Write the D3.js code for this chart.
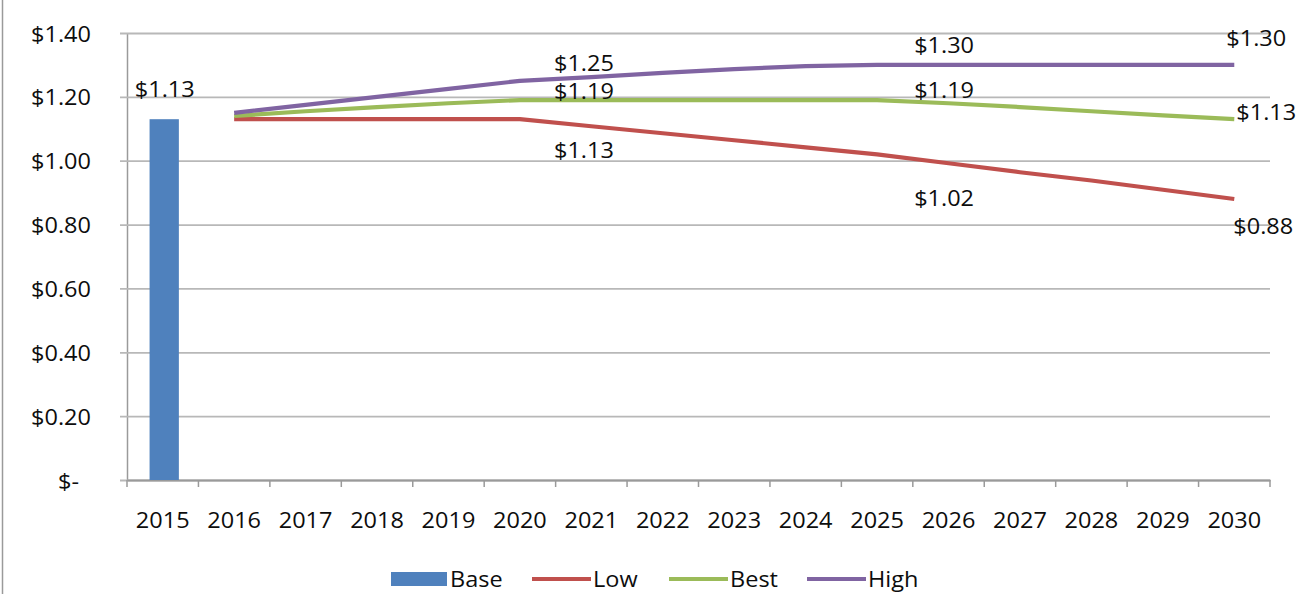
<!DOCTYPE html>
<html>
<head>
<meta charset="utf-8">
<script src="https://cdn.jsdelivr.net/npm/d3@7"></script>
<style>
  html, body { margin: 0; padding: 0; background: #fff; }
  svg { display: block; }
  text { font-family: "Open Sans", "Liberation Sans", sans-serif; fill: #0d0d0d; }
</style>
</head>
<body>
<svg id="chart" width="1296" height="594"></svg>
<script>
// ---- data ----
const years = ["2015","2016","2017","2018","2019","2020","2021","2022","2023","2024","2025","2026","2027","2028","2029","2030"];
const baseYears = ["2015"];
const baseValues = [1.13];
const lowValues  = [null, 1.13, 1.13, 1.13, 1.13, 1.13, 1.108, 1.086, 1.064, 1.042, 1.02, 0.992, 0.964, 0.938, 0.909, 0.88];
const bestValues = [null, 1.14, 1.155, 1.168, 1.18, 1.19, 1.19, 1.19, 1.19, 1.19, 1.19, 1.18, 1.168, 1.155, 1.142, 1.13];
const highValues = [null, 1.15, 1.175, 1.20, 1.225, 1.25, 1.262, 1.275, 1.287, 1.296, 1.30, 1.30, 1.30, 1.30, 1.30, 1.30];
const labeledYears = ["2020", "2025", "2030"];
const yTickValues = [0, 0.2, 0.4, 0.6, 0.8, 1.0, 1.2, 1.4];
const yTickLabels = ["$-", "$0.20", "$0.40", "$0.60", "$0.80", "$1.00", "$1.20", "$1.40"];
const seriesNames = ["Low", "Best", "High"];
const legendNames = ["Base", "Low", "Best", "High"];

// ---- layout ----
const colors = { Base: "#4F81BD", Low: "#C0504D", Best: "#9BBB59", High: "#8064A2" };
const plot = { left: 127, right: 1270, top: 33, bottom: 480 };
const fontSize = 21;
const stretch = "scale(1.12,1)";
// label offsets (dx, dy of label centre from its point), per series, per labelled year
const labelOffsets = {
  Low:  [[64, 31], [67, 44], [29, 27]],
  Best: [[64, -9], [67, -10], [32, -7]],
  High: [[64, -18], [67, -20], [22, -27]]
};
const legendX = { Base: 391, Low: 532, Best: 669, High: 807 };

const svg = d3.select("#chart");
const fmt = v => "$" + d3.format(".2f")(v);

const x = d3.scaleBand().domain(years).range([plot.left, plot.right]).padding(0);
const xc = d => x(d) + x.bandwidth() / 2;
const y = d3.scaleLinear().domain([0, 1.4]).range([plot.bottom, plot.top]);

// outer frame line at the very left
svg.append("line").attr("x1", 2.5).attr("x2", 2.5).attr("y1", 0).attr("y2", 594)
  .attr("stroke", "#9a9a9a").attr("stroke-width", 1.5);

// gridlines + y axis
const yAxis = d3.axisLeft(y).tickValues(yTickValues)
  .tickSize(-(plot.right - plot.left)).tickSizeOuter(0)
  .tickFormat((d, i) => yTickLabels[i]);
const gy = svg.append("g").attr("transform", `translate(${plot.left},0)`).call(yAxis);
gy.select(".domain").attr("stroke", "#9a9a9a").attr("stroke-width", 1.5);
gy.selectAll(".tick line").attr("stroke", "#b8b8b8").attr("stroke-width", 1.8).attr("x1", -7);
gy.selectAll(".tick text")
  .attr("x", null).attr("dy", null)
  .attr("font-size", fontSize)
  .attr("text-anchor", "end")
  .attr("dominant-baseline", "central")
  .attr("transform", (d) => `translate(${d === 0 ? -48 : -36},0) ${stretch}`)
  .style("font-family", "'Open Sans', sans-serif")
  .attr("fill", "#0d0d0d");

// x axis
const xAxis = d3.axisBottom(x).tickSize(0).tickSizeOuter(0);
const gx = svg.append("g").attr("transform", `translate(0,${plot.bottom})`).call(xAxis);
gx.select(".domain").attr("stroke", "#9a9a9a").attr("stroke-width", 1.8);
gx.selectAll(".tick text")
  .attr("y", null).attr("dy", null)
  .attr("font-size", fontSize)
  .attr("dominant-baseline", "central")
  .attr("transform", `translate(0,40) ${stretch}`)
  .style("font-family", "'Open Sans', sans-serif")
  .attr("fill", "#0d0d0d");
// category boundary tick marks
svg.append("g").selectAll("line")
  .data(years.concat(["end"]))
  .join("line")
  .attr("x1", (d, i) => i < years.length ? x(d) : plot.right)
  .attr("x2", (d, i) => i < years.length ? x(d) : plot.right)
  .attr("y1", plot.bottom).attr("y2", plot.bottom + 7)
  .attr("stroke", "#9a9a9a").attr("stroke-width", 1.5);

// base bar
const barW = x.bandwidth() * 0.41;
svg.append("g").selectAll("rect")
  .data(baseYears.map((yr, i) => ({ yr, v: baseValues[i] })))
  .join("rect")
  .attr("x", d => xc(d.yr) - barW / 2 + 1.5)
  .attr("width", barW)
  .attr("y", d => y(d.v))
  .attr("height", d => plot.bottom - y(d.v))
  .attr("fill", colors.Base);
svg.append("g").selectAll("text")
  .data(baseYears.map((yr, i) => ({ yr, v: baseValues[i] })))
  .join("text")
  .attr("transform", d => `translate(${xc(d.yr) + 2},${y(d.v) - 30}) ${stretch}`)
  .attr("text-anchor", "middle").attr("dominant-baseline", "central")
  .attr("font-size", fontSize)
  .text(d => fmt(d.v));

// scenario lines
const seriesData = { Low: lowValues, Best: bestValues, High: highValues };
const line = d3.line()
  .defined(d => d.v != null)
  .x(d => xc(d.yr))
  .y(d => y(d.v));
seriesNames.forEach(name => {
  const pts = years.map((yr, i) => ({ yr, v: seriesData[name][i] }));
  svg.append("path")
    .datum(pts)
    .attr("d", line)
    .attr("fill", "none")
    .attr("stroke", colors[name])
    .attr("stroke-width", 4.2)
    .attr("stroke-linejoin", "round");
});

// value labels
seriesNames.forEach(name => {
  const pts = labeledYears.map((yr, k) => ({
    yr, v: seriesData[name][years.indexOf(yr)], off: labelOffsets[name][k]
  }));
  svg.append("g").selectAll("text")
    .data(pts)
    .join("text")
    .attr("transform", d => `translate(${xc(d.yr) + d.off[0]},${y(d.v) + d.off[1]}) ${stretch}`)
    .attr("text-anchor", "middle").attr("dominant-baseline", "central")
    .attr("font-size", fontSize)
    .text(d => fmt(d.v));
});

// legend
const legendY = 579;
const lg = svg.append("g").selectAll("g")
  .data(legendNames)
  .join("g")
  .attr("transform", d => `translate(${legendX[d]},${legendY})`);
lg.each(function(d) {
  const g = d3.select(this);
  if (d === "Base") {
    g.append("rect").attr("x", 0).attr("y", -7).attr("width", 56).attr("height", 14).attr("fill", colors[d]);
  } else {
    g.append("line").attr("x1", 0).attr("x2", 59).attr("y1", 0).attr("y2", 0)
      .attr("stroke", colors[d]).attr("stroke-width", 4);
  }
  g.append("text")
    .attr("transform", `translate(${d === "Base" ? 59 : 61},0) ${stretch}`)
    .attr("dominant-baseline", "central")
    .attr("font-size", fontSize)
    .text(d);
});
</script>
</body>
</html>
